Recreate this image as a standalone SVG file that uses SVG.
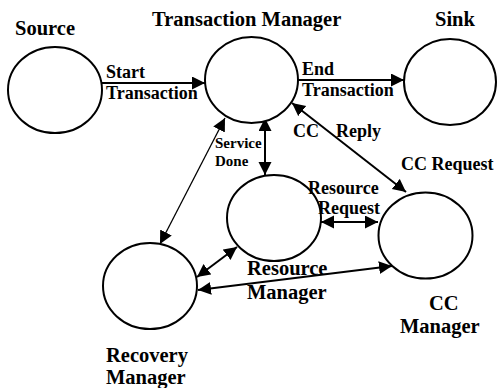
<svg xmlns="http://www.w3.org/2000/svg" width="497" height="388" viewBox="0 0 497 388">
  <style>
    .node { fill: #fff; stroke: #000; stroke-width: 2; }
    .title { font-family: "Liberation Serif", "Times New Roman", serif; font-weight: bold; font-size: 20.5px; fill: #000; }
    .lbl { font-family: "Liberation Serif", "Times New Roman", serif; font-weight: bold; font-size: 18px; fill: #000; }
    .small { font-family: "Liberation Serif", "Times New Roman", serif; font-weight: bold; font-size: 15px; fill: #000; }
    .edge { stroke: #000; stroke-width: 2; fill: none; }
    .thin { stroke-width: 1.3; }
  </style>
  <defs>
    <marker id="head" markerUnits="userSpaceOnUse" markerWidth="14" markerHeight="14" refX="13" refY="6.5" orient="auto-start-reverse" viewBox="0 0 14 14">
      <path d="M0,0 L13,6.5 L0,13 Z" fill="#000"/>
    </marker>
  </defs>

  <rect width="497" height="388" fill="#fff"/>

  <g id="connectors">
    <line class="edge" x1="102" y1="83" x2="205" y2="83" marker-end="url(#head)"/>
    <line class="edge" x1="298" y1="80" x2="404" y2="80" marker-end="url(#head)"/>
    <line class="edge thin" x1="160" y1="244" x2="225" y2="118" marker-start="url(#head)" marker-end="url(#head)"/>
    <line class="edge" x1="265" y1="118" x2="265" y2="175" marker-start="url(#head)" marker-end="url(#head)"/>
    <line class="edge" x1="292" y1="103" x2="406" y2="192" marker-start="url(#head)" marker-end="url(#head)"/>
    <line class="edge" x1="321" y1="222" x2="378" y2="222" marker-start="url(#head)" marker-end="url(#head)"/>
    <line class="edge" x1="237" y1="247" x2="197" y2="277" marker-start="url(#head)" marker-end="url(#head)"/>
    <line class="edge" x1="392" y1="266" x2="198" y2="290" marker-start="url(#head)" marker-end="url(#head)"/>
  </g>

  <g id="source">
    <ellipse class="node" cx="55" cy="90" rx="47" ry="43"/>
    <text class="title" x="15" y="35">Source</text>
  </g>

  <g id="transaction-manager">
    <ellipse class="node" cx="251.5" cy="80" rx="46.5" ry="43"/>
    <text class="title" x="152" y="26">Transaction Manager</text>
  </g>

  <g id="sink">
    <ellipse class="node" cx="450" cy="82" rx="46" ry="43"/>
    <text class="title" x="435" y="26">Sink</text>
  </g>

  <g id="resource-manager">
    <ellipse class="node" cx="274" cy="218" rx="47" ry="43"/>
    <text class="title" x="247" y="275">Resource</text>
    <text class="title" x="247" y="299">Manager</text>
  </g>

  <g id="cc-manager">
    <ellipse class="node" cx="425.5" cy="235.5" rx="47" ry="43"/>
    <text class="title" x="429" y="310">CC</text>
    <text class="title" x="400" y="333">Manager</text>
  </g>

  <g id="recovery-manager">
    <ellipse class="node" cx="150" cy="286" rx="47" ry="43"/>
    <text class="title" x="106" y="362">Recovery</text>
    <text class="title" x="106" y="384">Manager</text>
  </g>

  <g id="edge-labels">
    <text class="lbl" x="106" y="78">Start</text>
    <text class="lbl" x="106" y="99">Transaction</text>
    <text class="lbl" x="302" y="75">End</text>
    <text class="lbl" x="302" y="96">Transaction</text>
    <text class="small" x="215" y="148">Service</text>
    <text class="small" x="215" y="166">Done</text>
    <text class="lbl" x="293" y="137">CC</text>
    <text class="lbl" x="336" y="137">Reply</text>
    <text class="lbl" x="401" y="170">CC Request</text>
    <text class="lbl" x="308" y="194">Resource</text>
    <text class="lbl" x="318" y="214">Request</text>
  </g>
</svg>
